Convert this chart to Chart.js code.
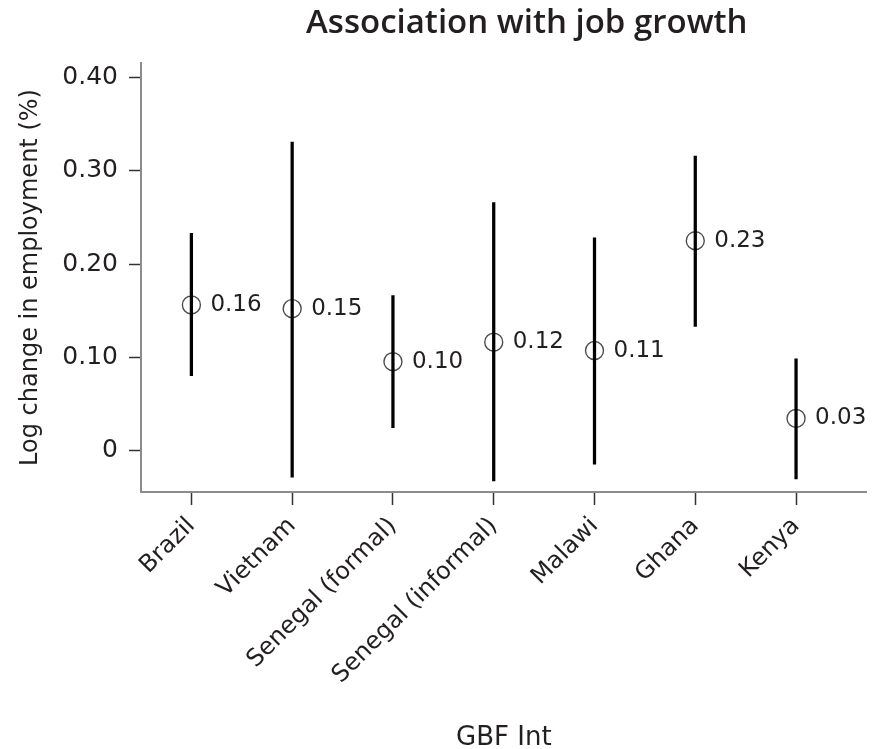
<!DOCTYPE html>
<html>
<head>
<meta charset="utf-8">
<script src="https://cdn.jsdelivr.net/npm/chart.js@4/dist/chart.umd.min.js"></script>
<style>
  html, body { margin: 0; padding: 0; background: #ffffff; }
  #wrap { width: 877px; height: 749px; position: relative; }
</style>
</head>
<body>
<div id="wrap"><canvas id="c" width="877" height="749"></canvas></div>
<script>
// ---- data ----
const categories = ["Brazil", "Vietnam", "Senegal (formal)", "Senegal (informal)", "Malawi", "Ghana", "Kenya"];
const estimates  = [0.156, 0.152, 0.095, 0.116, 0.107, 0.225, 0.034];
const ciLow      = [0.080, -0.029, 0.024, -0.033, -0.015, 0.133, -0.031];
const ciHigh     = [0.233, 0.331, 0.166, 0.266, 0.228, 0.316, 0.098];
const valueLabels = ["0.16", "0.15", "0.10", "0.12", "0.11", "0.23", "0.03"];
const yTicks     = [0, 0.10, 0.20, 0.30, 0.40];
const chartTitle = "Association with job growth";
const yTitle     = "Log change in employment (%)";
const xTitle     = "GBF Int";

const SANS = "'DejaVu Sans', 'Open Sans', sans-serif";
const TITLE_FONT = "'Open Sans', 'DejaVu Sans', sans-serif";
const TEXT = "#231f20";

const titlePlugin = {
  id: 'topTitle',
  afterDraw(chart) {
    const ctx = chart.ctx;
    ctx.save();
    ctx.font = "600 33px " + TITLE_FONT;
    ctx.fillStyle = TEXT;
    ctx.textAlign = 'center';
    ctx.textBaseline = 'alphabetic';
    const ca = chart.chartArea;
    ctx.fillText(chartTitle, (ca.left + ca.right) / 2 + 23, 33);
    ctx.restore();
  }
};

const valueLabelPlugin = {
  id: 'valueLabels',
  afterDatasetsDraw(chart) {
    const meta = chart.getDatasetMeta(1);
    const ctx = chart.ctx;
    ctx.save();
    ctx.font = "23px " + SANS;
    ctx.fillStyle = TEXT;
    ctx.textAlign = 'left';
    ctx.textBaseline = 'middle';
    meta.data.forEach((pt, i) => {
      ctx.fillText(valueLabels[i], pt.x + 19, pt.y);
    });
    ctx.restore();
  }
};

const barData = categories.map((c, i) => ({ x: i, y: [ciLow[i], ciHigh[i]] }));
const pointData = categories.map((c, i) => ({ x: i, y: estimates[i] }));

new Chart(document.getElementById('c'), {
  data: {
    datasets: [
      {
        type: 'bar',
        data: barData,
        backgroundColor: '#000000',
        borderWidth: 0,
        barThickness: 2.6,
        order: 1
      },
      {
        type: 'scatter',
        data: pointData,
        pointStyle: 'circle',
        pointRadius: 9,
        pointBorderWidth: 1.4,
        pointBorderColor: '#4d4d4d',
        pointBackgroundColor: 'rgba(0,0,0,0)',
        showLine: false,
        order: 2
      }
    ]
  },
  options: {
    responsive: false,
    devicePixelRatio: 1,
    animation: false,
    layout: { padding: { top: 63, right: 9, bottom: 0, left: 0 } },
    plugins: {
      legend: { display: false },
      tooltip: { enabled: false },
      title: { display: false }
    },
    scales: {
      x: {
        type: 'linear',
        min: -0.5,
        max: 6.7,
        offset: false,
        afterBuildTicks(scale) {
          scale.ticks = categories.map((c, i) => ({ value: i }));
        },
        afterFit(scale) { scale.height = 257; },
        ticks: {
          autoSkip: false,
          maxRotation: 45,
          minRotation: 45,
          padding: 7,
          color: TEXT,
          font: { family: SANS, size: 24 },
          callback: (v) => categories[v] !== undefined ? categories[v] : ''
        },
        grid: {
          display: true,
          offset: false,
          drawOnChartArea: false,
          drawTicks: true,
          tickLength: 13,
          tickWidth: 1.5,
          tickColor: '#333333'
        },
        border: { display: true, color: '#8c8c8c', width: 2 },
        title: {
          display: true,
          text: xTitle,
          color: TEXT,
          font: { family: SANS, size: 26 },
          padding: { top: 0, bottom: -5 }
        }
      },
      y: {
        type: 'linear',
        min: -0.045,
        max: 0.416,
        afterBuildTicks(scale) {
          scale.ticks = yTicks.map(v => ({ value: v }));
        },
        afterFit(scale) { scale.width = 141; },
        ticks: {
          padding: 11,
          color: TEXT,
          font: { family: SANS, size: 25 },
          callback: (v) => v === 0 ? '0' : Number(v).toFixed(2)
        },
        grid: {
          display: true,
          offset: false,
          drawOnChartArea: false,
          drawTicks: true,
          tickLength: 12,
          tickWidth: 1.5,
          tickColor: '#333333'
        },
        border: { display: true, color: '#8c8c8c', width: 2 },
        title: {
          display: true,
          text: yTitle,
          color: TEXT,
          font: { family: SANS, size: 24 },
          padding: { top: 16, bottom: 0 }
        }
      }
    }
  },
  plugins: [titlePlugin, valueLabelPlugin]
});
</script>
</body>
</html>
